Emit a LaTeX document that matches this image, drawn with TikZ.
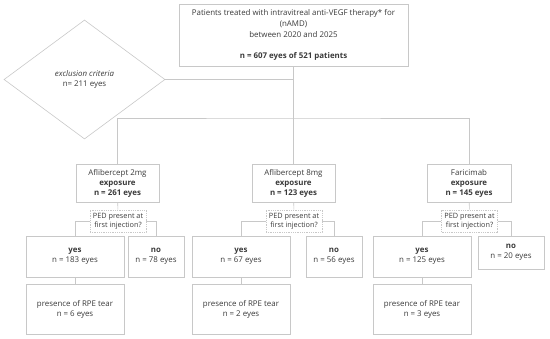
\documentclass[tikz,border=0pt]{standalone}
\usepackage{fontspec}
\setmainfont{Open Sans}
\usepackage{tikz}
\usetikzlibrary{positioning, calc, shapes.geometric}
\definecolor{flowedge}{HTML}{C8C8C8}
\definecolor{flowtext}{HTML}{3A3A3A}

\begin{document}
\begin{tikzpicture}[
    x=1pt, y=-1pt,
    font=\fontsize{7.9}{10}\selectfont,
    cohortbox/.style={
      draw=flowedge, line width=0.6pt,
      align=center, inner sep=1pt,
      minimum width=229pt, minimum height=62pt,
      font=\fontsize{7.9}{11}\selectfont,
      text=flowtext,
    },
    exposurebox/.style={
      draw=flowedge, line width=0.6pt,
      align=center, inner sep=1pt,
      minimum width=83pt, minimum height=38pt,
      text=flowtext,
    },
    questionbox/.style={
      draw=flowedge, line width=0.6pt,
      dash pattern=on 1pt off 0.8pt,
      align=center, inner sep=1pt,
      minimum width=56pt, minimum height=22pt,
      font=\fontsize{7.3}{9}\selectfont,
      text=flowtext,
    },
    answerbox/.style={
      draw=flowedge, line width=0.6pt,
      align=center, inner sep=1pt,
      minimum width=98pt, minimum height=41pt,
      text=flowtext,
    },
    tearbox/.style={
      draw=flowedge, line width=0.6pt,
      align=center, inner sep=1pt,
      minimum width=98pt, minimum height=50pt,
      text=flowtext,
    },
    exclbox/.style={
      draw=flowedge, line width=0.6pt,
      shape=diamond, aspect=1.35, inner sep=0pt,
      minimum width=161pt, minimum height=119pt,
      align=center, text=flowtext,
    },
    flowline/.style={draw=flowedge, line width=0.6pt},
  ]
  \useasboundingbox (0,0) rectangle (550,339);

  % -----------------------------------------------------------
  % Cohort and exclusion
  % -----------------------------------------------------------
  \node[cohortbox] (cohort) at (293.5, 35)
        {Patients treated with intravitreal anti-VEGF therapy* for\\
         (nAMD)\\between 2020 and 2025\\[10pt]
         \textbf{n = 607 eyes of 521 patients}};
  \node[exclbox] (excl) at (84.5, 79.5)
        {\itshape exclusion criteria\\n= 211 eyes};

  % -----------------------------------------------------------
  % Treatment arms
  % -----------------------------------------------------------
  \node[exposurebox] (expA) at (117.5, 183)
        {Aflibercept 2mg\\\textbf{exposure}\\\textbf{n = 261 eyes}};
  \node[exposurebox] (expB) at (293.5, 183)
        {Aflibercept 8mg\\\textbf{exposure}\\\textbf{n = 123 eyes}};
  \node[exposurebox, minimum width=84pt] (expC) at (469, 183)
        {Faricimab\\\textbf{exposure}\\\textbf{n = 145 eyes}};

  % -----------------------------------------------------------
  % PED question per arm
  % -----------------------------------------------------------
  \node[questionbox] (pedA) at (118, 221) {PED present at\\first injection?};
  \node[questionbox] (pedB) at (294, 221) {PED present at\\first injection?};
  \node[questionbox] (pedC) at (469.5, 221) {PED present at\\first injection?};

  % -----------------------------------------------------------
  % Answers
  % -----------------------------------------------------------
  \node[answerbox] (yesA) at (75, 256.5) {\textbf{yes}\\n = 183 eyes};
  \node[answerbox, minimum width=56pt] (noA) at (156, 256.5) {\textbf{no}\\n = 78 eyes};
  \node[answerbox] (yesB) at (241, 256.5) {\textbf{yes}\\n = 67 eyes};
  \node[answerbox, minimum width=56pt] (noB) at (334, 256.5) {\textbf{no}\\n = 56 eyes};
  \node[answerbox] (yesC) at (422, 256.5) {\textbf{yes}\\n = 125 eyes};
  \node[answerbox, minimum width=66pt, minimum height=33pt]
                   (noC) at (511, 252.5) {\textbf{no}\\n = 20 eyes};

  % -----------------------------------------------------------
  % RPE tear
  % -----------------------------------------------------------
  \node[tearbox] (tearA) at (75, 309) {presence of RPE tear\\n = 6 eyes};
  \node[tearbox] (tearB) at (241, 309) {presence of RPE tear\\n = 2 eyes};
  \node[tearbox] (tearC) at (422, 309) {presence of RPE tear\\n = 3 eyes};

  % -----------------------------------------------------------
  % Connectors
  % -----------------------------------------------------------
  \coordinate (bar) at (cohort.south |- 0,118);
  \draw[flowline] (cohort.south) -- (expB.north);
  \draw[flowline] (excl.east) -- (excl.east -| cohort.south);
  \draw[flowline] (expA.north) |- (bar) -| (expC.north);

  \draw[flowline] (expA) -- (pedA);
  \draw[flowline] (expB) -- (pedB);
  \draw[flowline] (expC) -- (pedC);

  \draw[flowline] (pedA.west) -| (yesA.north);
  \draw[flowline] (pedA.east) -| (noA.north);
  \draw[flowline] (pedB.west) -| (yesB.north);
  \draw[flowline] (pedB.east) -| (noB.north);
  \draw[flowline] (pedC.west) -| (yesC.north);
  \draw[flowline] (pedC.east) -| (noC.north);

  \draw[flowline] (yesA) -- (tearA);
  \draw[flowline] (yesB) -- (tearB);
  \draw[flowline] (yesC) -- (tearC);

\end{tikzpicture}
\end{document}
